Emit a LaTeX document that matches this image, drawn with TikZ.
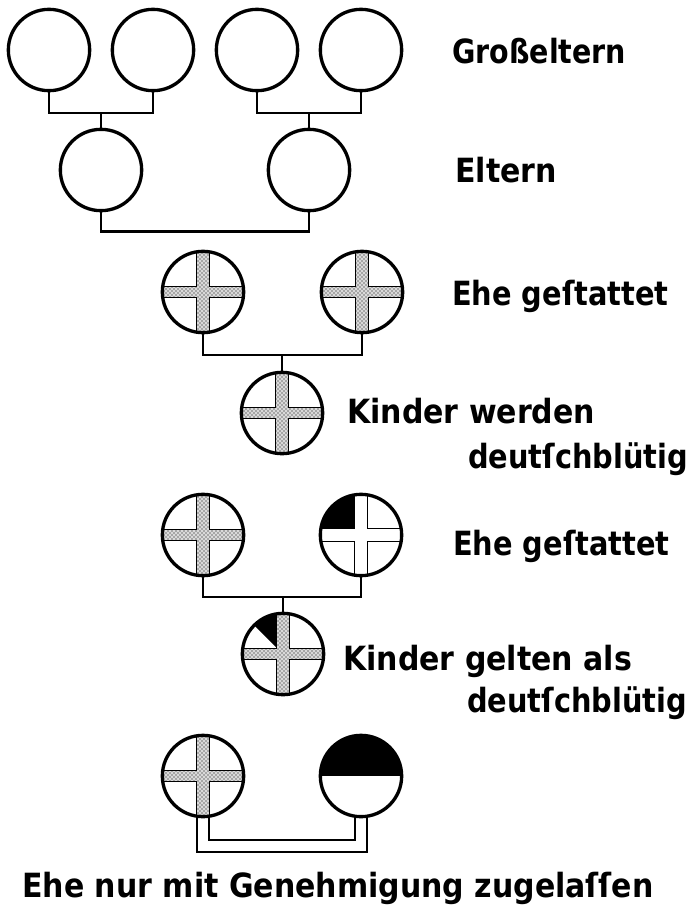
\documentclass[tikz,border=0pt]{standalone}
\usepackage{fontspec}
\setmainfont{DejaVu Sans Condensed}
\usetikzlibrary{patterns, backgrounds}

\newcommand{\kreuz}[3]{\draw[line width=1.2pt, #1] (-#2,40pt) -- (#2,40pt) -- (#2,#3) -- (40pt,#3) -- (40pt,-#3) -- (#2,-#3) -- (#2,-40pt) -- (-#2,-40pt) -- (-#2,-#3) -- (-40pt,-#3) -- (-40pt,#3) -- (-#2,#3) -- cycle;}
\newcommand{\eng}[2]{\scalebox{#1}[1]{#2}}

\begin{document}
\begin{tikzpicture}[x=0.75pt, y=-0.75pt,
    person/.style={circle, draw, line width=2.5pt, minimum size=61pt, inner sep=0pt},
    stipple/.style={preaction={fill=gray!30}, pattern=crosshatch dots},
    deutsch/.style={person, path picture={\begin{scope}[shift={(path picture bounding box.center)}]
        \kreuz{stipple}{4.9pt}{4.1pt}\end{scope}}},
    viertel/.style={person, path picture={\begin{scope}[shift={(path picture bounding box.center)}]
        \fill (0,0) rectangle (-40pt,40pt); \kreuz{fill=white}{4.9pt}{4.9pt}\end{scope}}},
    achtel/.style={person, path picture={\begin{scope}[shift={(path picture bounding box.center)}]
        \fill (0,0) -- (135:50pt) -- (90:50pt) -- cycle; \kreuz{stipple}{4.9pt}{4.1pt}\end{scope}}},
    halb/.style={person, path picture={\begin{scope}[shift={(path picture bounding box.center)}]
        \fill (-40pt,0) rectangle (40pt,40pt);\end{scope}}},
    linie/.style={line width=1.8pt},
    rohr/.style={double, line width=1.6pt, double distance=7.4pt},
    schrift/.style={anchor=base west, inner sep=0pt, font=\fontsize{25}{28}\selectfont\bfseries}]
  \useasboundingbox (0,0) rectangle (689,915);

  % Grosseltern und Eltern
  \node[person] (g1) at (49,50)  {};
  \node[person] (g2) at (153,50) {};
  \node[person] (g3) at (257,50) {};
  \node[person] (g4) at (361,50) {};
  \node[person] (p1) at (101,170) {};
  \node[person] (p2) at (309,170) {};

  % erste Ehe
  \node[deutsch] (a1) at (203,292) {};
  \node[deutsch] (a2) at (362,292) {};
  \node[deutsch] (c1) at (282,413) {};

  % zweite Ehe
  \node[deutsch] (b1) at (203,535) {};
  \node[viertel] (b2) at (361,535) {};
  \node[achtel]  (c2) at (283,654) {};

  % dritte Ehe
  \node[deutsch] (d1) at (203,776) {};
  \node[halb]    (d2) at (361,776) {};

  \coordinate (j1) at (101,113);
  \coordinate (j2) at (309,113);
  \coordinate (m1) at (282,355);
  \coordinate (m2) at (283,597);
  \coordinate (m3) at (282,846);

  \begin{scope}[on background layer]
    \draw[linie] (g1) |- (j1) -| (g2);
    \draw[linie] (g3) |- (j2) -| (g4);
    \draw[linie] (j1) -- (p1);
    \draw[linie] (j2) -- (p2);
    \draw[linie] (p1.south) -- ++(0,19) -| (p2.south);
    \draw[linie] (a1) |- (m1) -| (a2);
    \draw[linie] (m1) -- (c1);
    \draw[linie] (b1) |- (m2) -| (b2);
    \draw[linie] (m2) -- (c2);
    \draw[rohr] (d1) |- (m3) -| (d2);
  \end{scope}

  \node[schrift] (t1) at (452,63)  {\eng{0.95}{Großeltern}};
  \node[schrift] (t2) at (455,182) {Eltern};
  \node[schrift] (t3) at (452,305) {\eng{0.96}{Ehe geſtattet}};
  \node[schrift] (t4) at (347,423) {Kinder werden};
  \node[schrift] (t5) at (468,468) {\eng{0.96}{deutſchblütig}};
  \node[schrift] (t6) at (453,555) {\eng{0.96}{Ehe geſtattet}};
  \node[schrift] (t7) at (343,670) {Kinder gelten als};
  \node[schrift] (t8) at (467,712) {\eng{0.96}{deutſchblütig}};
  \node[schrift] (t9) at (22,897)  {Ehe nur mit Genehmigung zugelaſſen};
\end{tikzpicture}
\end{document}
